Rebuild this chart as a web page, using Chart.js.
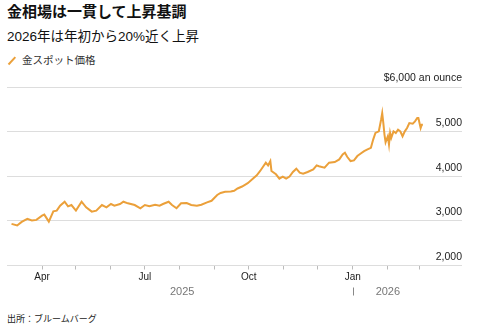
<!DOCTYPE html>
<html><head><meta charset="utf-8">
<script src="https://cdn.jsdelivr.net/npm/chart.js@4/dist/chart.umd.min.js"></script>
<style>
html,body{margin:0;padding:0;background:#fff;width:477px;height:333px;overflow:hidden}
body{position:relative;font-family:'Liberation Sans','Noto Sans CJK JP',sans-serif}
.t{position:absolute;left:7px;white-space:nowrap}
#title{top:3px;font-size:15px;line-height:17px;font-weight:bold;color:#111}
#sub{top:29px;font-size:13.5px;line-height:16px;color:#111}
#leg{top:54px;font-size:10.5px;line-height:13px;color:#333;left:22px}
#legicon{position:absolute;left:6.5px;top:59.5px;width:9.5px;height:2px;background:#EBA03A;transform:rotate(-47deg)}
#src{top:314px;font-size:9px;line-height:11px;color:#222}
#wrap{position:absolute;left:0;top:70px;width:477px;height:240px}
</style></head><body>
<div id="title" class="t">金相場は一貫して上昇基調</div>
<div id="sub" class="t">2026年は年初から20%近く上昇</div>
<div id="legicon"></div>
<div id="leg" class="t">金スポット価格</div>
<div id="wrap"><canvas id="c"></canvas></div>
<div id="src" class="t">出所：ブルームバーグ</div>
<script>
const dates = [
 '2025-03-05','2025-03-10','2025-03-14','2025-03-19','2025-03-23','2025-03-27','2025-04-01','2025-04-03','2025-04-07','2025-04-11',
 '2025-04-14','2025-04-17','2025-04-21','2025-04-24','2025-04-27','2025-05-01','2025-05-06','2025-05-10','2025-05-15','2025-05-19',
 '2025-05-24','2025-05-28','2025-06-01','2025-06-04','2025-06-09','2025-06-12','2025-06-16','2025-06-22','2025-06-27','2025-07-01',
 '2025-07-05','2025-07-10','2025-07-14','2025-07-17','2025-07-22','2025-07-25','2025-07-29','2025-08-02','2025-08-07','2025-08-11',
 '2025-08-16','2025-08-20','2025-08-25','2025-08-29','2025-09-03','2025-09-06','2025-09-10','2025-09-15','2025-09-18','2025-09-21',
 '2025-09-25','2025-09-30','2025-10-04','2025-10-08','2025-10-11','2025-10-14','2025-10-16','2025-10-18','2025-10-20','2025-10-21',
 '2025-10-25','2025-10-28','2025-10-31','2025-11-03','2025-11-06','2025-11-09','2025-11-12','2025-11-15','2025-11-18','2025-11-22',
 '2025-11-27','2025-11-30','2025-12-02','2025-12-07','2025-12-11','2025-12-16','2025-12-20','2025-12-23','2025-12-25','2025-12-27',
 '2025-12-30','2026-01-02','2026-01-05','2026-01-08','2026-01-11','2026-01-14','2026-01-17','2026-01-19','2026-01-21','2026-01-24',
 '2026-01-26','2026-01-27','2026-01-28','2026-01-29','2026-01-30','2026-02-01','2026-02-02','2026-02-03','2026-02-04','2026-02-06',
 '2026-02-08','2026-02-10','2026-02-12','2026-02-14','2026-02-16','2026-02-18','2026-02-20','2026-02-23','2026-02-25','2026-02-27',
 '2026-02-28','2026-03-02','2026-03-03','2026-03-04'
];
const prices = [
 2933,2896,2978,3044,3007,3022,3118,3140,2985,3215,
 3230,3341,3429,3326,3355,3230,3429,3304,3207,3230,
 3355,3304,3378,3341,3378,3429,3393,3355,3282,3355,
 3326,3363,3341,3378,3429,3355,3282,3393,3400,3355,
 3341,3363,3415,3450,3580,3625,3652,3659,3674,3726,
 3770,3844,3933,4022,4118,4230,4304,4244,4341,4118,
 4044,3948,3993,3948,3993,4096,4170,4081,4059,4096,
 4155,4244,4225,4193,4304,4319,4378,4489,4526,4437,
 4341,4356,4452,4511,4563,4600,4637,4822,4970,5007,
 5267,5415,5193,4933,4763,4896,4711,4970,4859,5007,
 4970,5044,5007,4896,5007,5081,5193,5178,5230,5304,
 5304,5081,5156,5156
];
const monthTicks = ['2025-04-01','2025-05-01','2025-06-01','2025-07-01','2025-08-01','2025-09-01',
 '2025-10-01','2025-11-01','2025-12-01','2026-01-01','2026-02-01','2026-03-01'];
const monthLabels = ['Apr','','','Jul','','','Oct','','','Jan','',''];
const yTicks = [2000,3000,4000,5000,6000];
const yLabels = ['2,000','3,000','4,000','5,000','$6,000 an ounce'];
const years = ['2025','2026'];
const yearStart = '2026-01-01';

const DAY = 86400000;
const toDay = s => Date.parse(s + 'T00:00:00Z') / DAY;
const pts = dates.map((d, i) => ({x: toDay(d), y: prices[i]}));

const yearPlugin = {
  id: 'years',
  afterDraw(chart) {
    const xs = chart.scales.x, ctx = chart.ctx;
    const first = pts[0].x, last = pts[pts.length - 1].x, jan = toDay(yearStart);
    const y = chart.chartArea.bottom + 26;
    ctx.save();
    ctx.font = "11px 'Liberation Sans'";
    ctx.fillStyle = '#777';
    ctx.textAlign = 'center';
    ctx.textBaseline = 'middle';
    ctx.fillText(years[0], (xs.getPixelForValue(first) + xs.getPixelForValue(jan)) / 2, y);
    ctx.fillText(years[1], (xs.getPixelForValue(jan) + xs.getPixelForValue(last)) / 2, y);
    const px = Math.round(xs.getPixelForValue(jan)) + 0.5;
    ctx.strokeStyle = '#888'; ctx.lineWidth = 1;
    ctx.beginPath(); ctx.moveTo(px, y - 4); ctx.lineTo(px, y + 4); ctx.stroke();
    ctx.restore();
  }
};

Chart.defaults.font.family = "'Liberation Sans', Arial, sans-serif";
new Chart(document.getElementById('c'), {
  type: 'line',
  data: { datasets: [{ label: '金スポット価格', data: pts, borderColor: '#EBA03A', borderWidth: 2,
    pointRadius: 0, tension: 0, fill: false }] },
  options: {
    responsive: true, maintainAspectRatio: false, animation: false,
    layout: { padding: { left: 7, right: 15, top: 17, bottom: 24.5 } },
    plugins: { legend: { display: false }, tooltip: { enabled: false } },
    scales: {
      x: {
        type: 'linear', min: toDay('2025-03-01'), max: toDay('2026-04-07') + 0.6,
        afterBuildTicks: s => { s.ticks = monthTicks.map(d => ({ value: toDay(d) })); },
        ticks: { callback: (v, i) => monthLabels[i], autoSkip: false, maxRotation: 0, font: { size: 10 }, color: '#222', padding: 2 },
        grid: { drawOnChartArea: false, drawTicks: true, tickLength: 4, color: '#bbb' },
        border: { display: false }
      },
      y: {
        position: 'right', min: 2000, max: 6000,
        afterBuildTicks: s => { s.ticks = yTicks.map(v => ({ value: v })); },
        ticks: { mirror: true, padding: 0, labelOffset: -8.5, callback: (v, i) => yLabels[i], font: { size: 10.5 }, color: '#222' },
        grid: { color: '#ddd', drawTicks: false, lineWidth: 1 },
        border: { display: false }
      }
    }
  },
  plugins: [yearPlugin]
});
</script>
</body></html>
